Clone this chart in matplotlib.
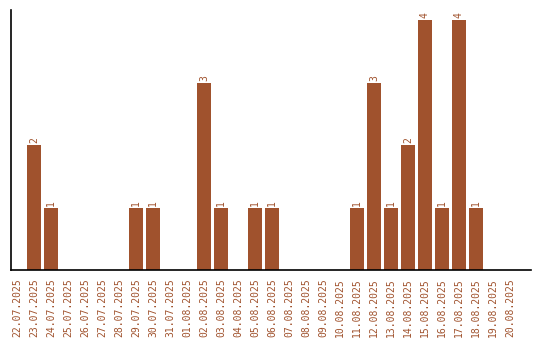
import matplotlib
matplotlib.use("Agg")
import matplotlib.pyplot as plt

dates = [
    "22.07.2025", "23.07.2025", "24.07.2025", "25.07.2025", "26.07.2025",
    "27.07.2025", "28.07.2025", "29.07.2025", "30.07.2025", "31.07.2025",
    "01.08.2025", "02.08.2025", "03.08.2025", "04.08.2025", "05.08.2025",
    "06.08.2025", "07.08.2025", "08.08.2025", "09.08.2025", "10.08.2025",
    "11.08.2025", "12.08.2025", "13.08.2025", "14.08.2025", "15.08.2025",
    "16.08.2025", "17.08.2025", "18.08.2025", "19.08.2025", "20.08.2025",
]
counts = [0, 2, 1, 0, 0, 0, 0, 1, 1, 0,
          0, 3, 1, 0, 1, 1, 0, 0, 0, 0,
          1, 3, 1, 2, 4, 1, 4, 1, 0, 0]

COLOR = "#A0522D"
W, H = 540, 340

fig = plt.figure(figsize=(W / 100, H / 100), dpi=100)
ax = fig.add_axes([11 / W, 1 - 270 / H, 520 / W, 260 / H])

x = range(len(dates))
ax.bar(x, counts, width=0.82, color=COLOR)

for i, v in zip(x, counts):
    if v > 0:
        ax.text(i, v + 0.03, str(v), rotation=90, ha="center", va="bottom",
                color=COLOR, family="DejaVu Sans Mono", fontsize=7)

ax.set_xlim(-0.35, 30.24)
ax.set_ylim(0, 4.16)
ax.set_xticks(list(x))
ax.set_xticklabels(dates, rotation=90, color=COLOR, family="DejaVu Sans Mono", fontsize=7)
ax.tick_params(axis="x", length=0, pad=6)
ax.set_yticks([])
for s in ["top", "right"]:
    ax.spines[s].set_visible(False)
for s in ["left", "bottom"]:
    ax.spines[s].set_linewidth(1.2)
    ax.spines[s].set_color("black")

fig.savefig("out.png", dpi=100)
